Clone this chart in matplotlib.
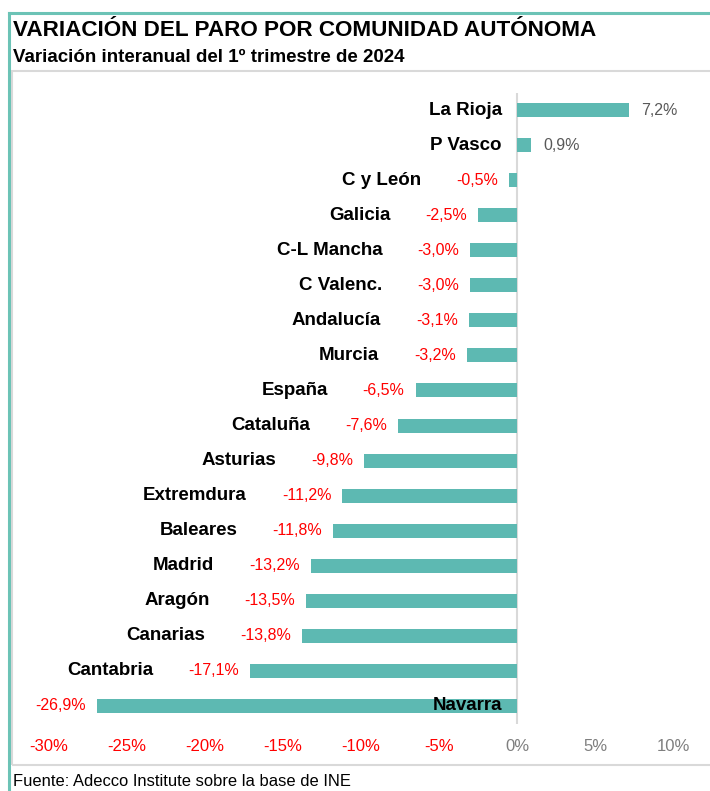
import matplotlib
matplotlib.use("Agg")
import matplotlib.pyplot as plt
from matplotlib.lines import Line2D
from matplotlib.patches import Rectangle

SANS = 'Liberation Sans'

regions = ["La Rioja", "P Vasco", "C y León", "Galicia", "C-L Mancha", "C Valenc.",
           "Andalucía", "Murcia", "España", "Cataluña", "Asturias", "Extremdura",
           "Baleares", "Madrid", "Aragón", "Canarias", "Cantabria", "Navarra"]
values = [7.2, 0.9, -0.5, -2.5, -3.0, -3.0, -3.1, -3.2, -6.5, -7.6, -9.8, -11.2,
          -11.8, -13.2, -13.5, -13.8, -17.1, -26.9]
xticks = [-30, -25, -20, -15, -10, -5, 0, 5, 10]

TEAL = '#5DB9B2'
RED = '#FF0000'
GRAY = '#595959'

W, H = 710, 791
fig = plt.figure(figsize=(W / 100, H / 100), dpi=100)

def fx(px):
    return px / W

def fy(py):
    return 1 - py / H

# outer frame (teal) and inner gray box
fig.add_artist(Line2D([fx(9), fx(9)], [fy(13), 0], color='#6CC3B6', lw=2.2, transform=fig.transFigure))
fig.add_artist(Line2D([fx(9), 1], [fy(13), fy(13)], color='#6CC3B6', lw=2.2, transform=fig.transFigure))
fig.add_artist(Rectangle((fx(12), fy(765)), 1.2, fy(71) - fy(765), transform=fig.transFigure,
                         fill=False, ec='#D9D9D9', lw=1.5))

fig.text(fx(13), fy(31), "VARIACIÓN DEL PARO POR COMUNIDAD AUTÓNOMA", family=SANS,
         weight='bold', fontsize=16.2, va='center', ha='left', color='black')
fig.text(fx(13), fy(58), "Variación interanual del 1º trimestre de 2024", family=SANS,
         weight='bold', fontsize=13.5, va='center', ha='left', color='black')
fig.text(fx(13), fy(782), "Fuente: Adecco Institute sobre la base de INE", family=SANS,
         fontsize=11.9, va='center', ha='left', color='black')

ax = fig.add_axes([fx(49), fy(723.5), fx(673) - fx(49), fy(92.5) - fy(723.5)])
ax.set_xlim(-30, 10)
ax.set_ylim(len(regions) - 0.5, -0.5)
ax.set_facecolor('none')
for s in ax.spines.values():
    s.set_visible(False)
ax.set_yticks([])
ax.set_xticks(xticks)
ax.set_xticklabels([f"{t}%" for t in xticks], family=SANS, fontsize=12)
for lab, t in zip(ax.get_xticklabels(), xticks):
    lab.set_color(RED if t < 0 else '#7F7F7F')
ax.tick_params(axis='x', length=0, pad=11)
ax.axvline(0, color='#D9D9D9', lw=1.5, zorder=1)

ys = list(range(len(regions)))
ax.barh(ys, values, height=0.4, color=TEAL, zorder=2)

vmin = min(values)
for y, name, v in zip(ys, regions, values):
    val = f"{v:.1f}%".replace('.', ',')
    if v >= 0:
        ax.annotate(val, xy=(v, y), xytext=(12, 0), textcoords='offset pixels',
                    ha='left', va='center', color=GRAY, family=SANS, fontsize=11.5)
        ax.annotate(name, xy=(0, y), xytext=(-15, 0), textcoords='offset pixels',
                    ha='right', va='center', color='black', family=SANS, weight='bold', fontsize=13.5)
    else:
        t = ax.annotate(val, xy=(v, y), xytext=(-11, 0), textcoords='offset pixels',
                        ha='right', va='center', color=RED, family=SANS, fontsize=11.5)
        if v == vmin:
            ax.annotate(name, xy=(0, y), xytext=(-15, 0), textcoords='offset pixels',
                        ha='right', va='center', color='black', family=SANS, weight='bold',
                        fontsize=13.5, zorder=3)
        else:
            ax.annotate(name, xy=(0, 0.5), xycoords=t, xytext=(-35, 0), textcoords='offset pixels',
                        ha='right', va='center', color='black', family=SANS, weight='bold', fontsize=13.5)

fig.savefig('out.png', dpi=100)
